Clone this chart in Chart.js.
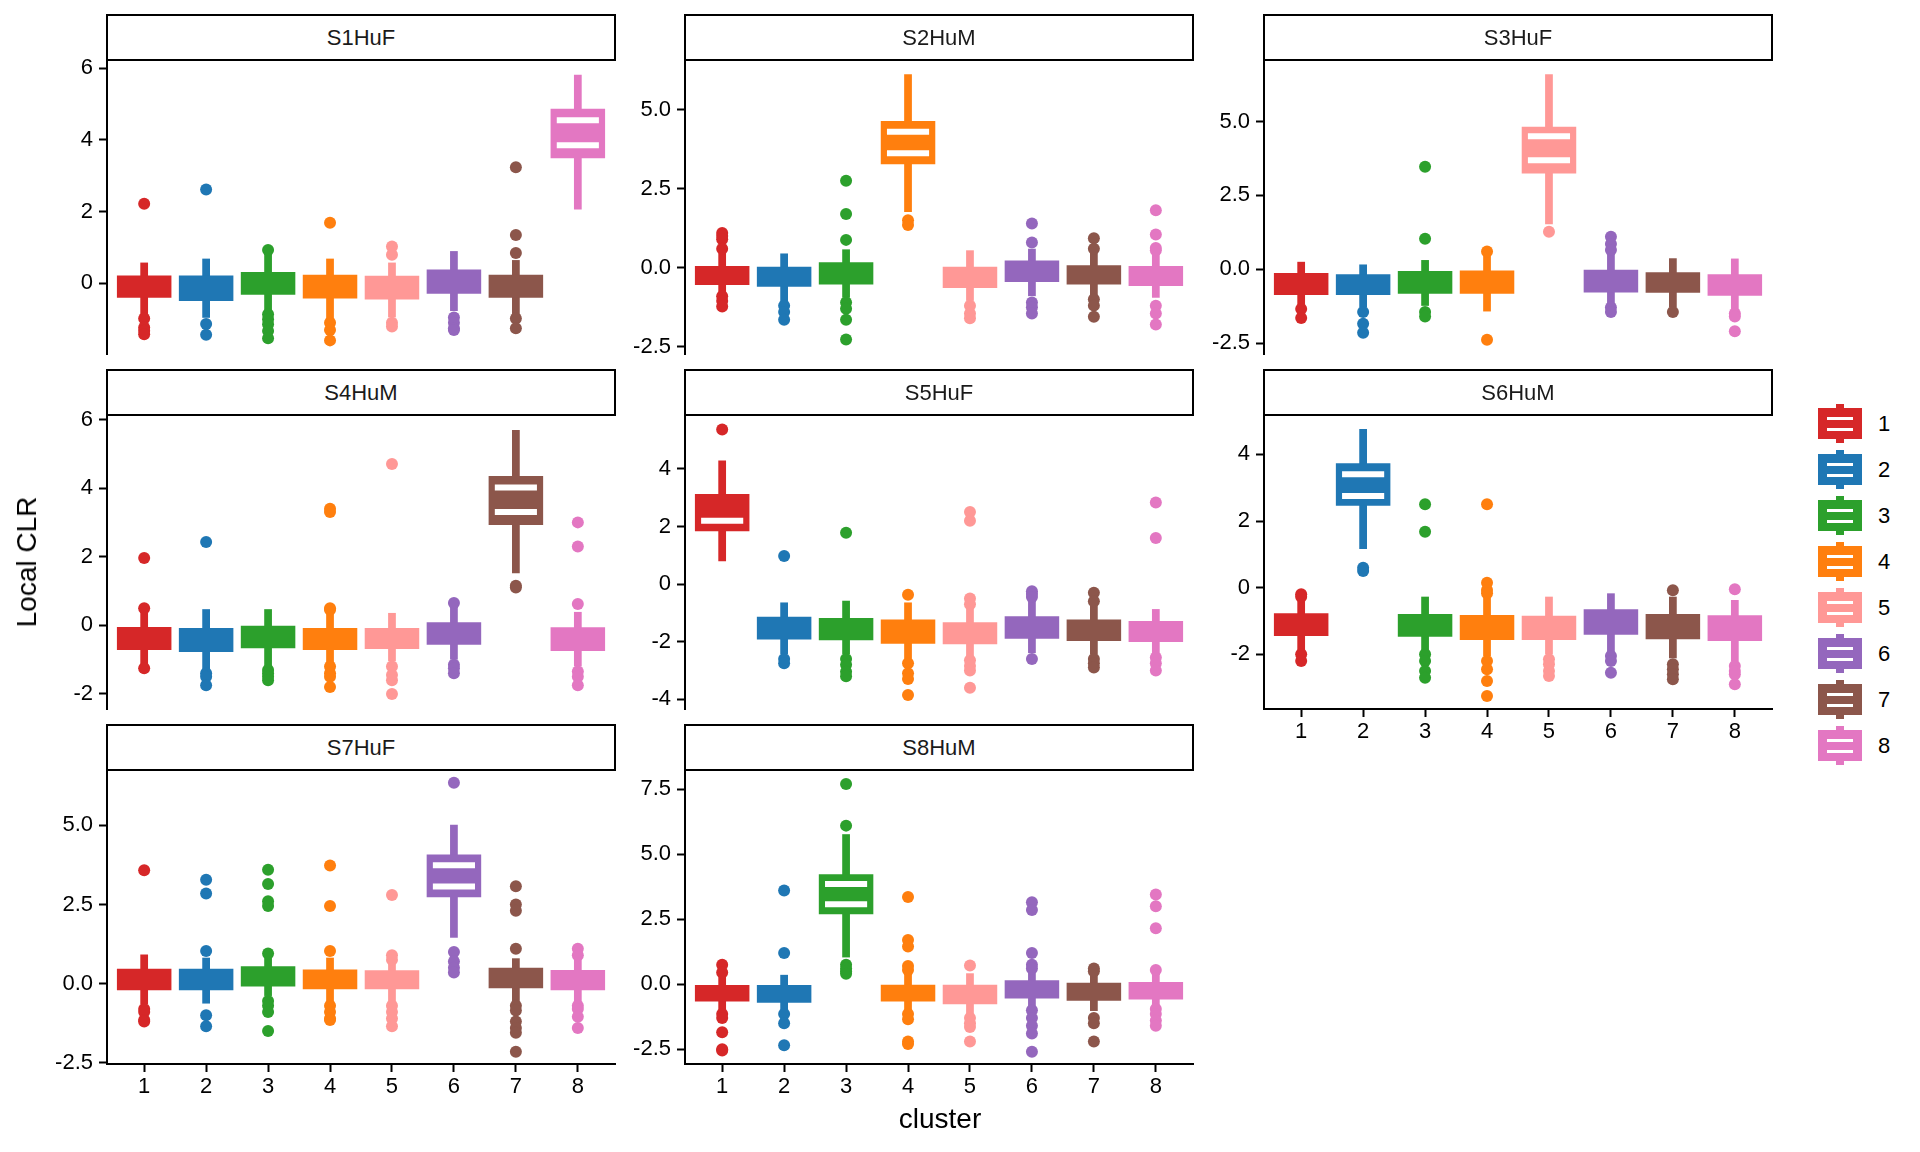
<!DOCTYPE html>
<html>
<head>
<meta charset="utf-8">
<script src="https://cdn.jsdelivr.net/npm/chart.js@4.4.1/dist/chart.umd.min.js"></script>
<style>
html,body{margin:0;padding:0;background:#fff;}
body{width:1920px;height:1152px;position:relative;overflow:hidden;font-family:"Liberation Sans",Arial,Helvetica,sans-serif;}
canvas{position:absolute;}
.strip{position:absolute;box-sizing:border-box;border:2px solid #000;background:#fff;display:flex;align-items:center;justify-content:center;font-size:22px;color:#1a1a1a;z-index:2;}
.title{position:absolute;font-size:28px;color:#000;white-space:nowrap;}
.lk{position:absolute;}
.ll{position:absolute;font-size:22px;color:#000;line-height:22px;}
</style>
</head>
<body>
<script>
// ---------------- data ----------------
const panelNames = ['S1HuF','S2HuM','S3HuF','S4HuM','S5HuF','S6HuM','S7HuF','S8HuM'];
const clusters = [1,2,3,4,5,6,7,8];
const xTickLabels = ['1','2','3','4','5','6','7','8'];
const legendLabels = ['1','2','3','4','5','6','7','8'];
const clusterColors = ['#d62728','#1f77b4','#2ca02c','#ff7f0e','#ff9896','#9467bd','#8c564b','#e377c2'];

const xMin = 0.4, xMax = 8.6;
const yMin = [-1.97,-2.73,-2.87,-2.44,-4.34,-3.64,-2.54,-3.07];
const yMax = [6.23,6.57,7.08,6.13,5.87,5.18,6.75,8.24];
const yTicks = [[0,2,4,6],[-2.5,0,2.5,5],[-2.5,0,2.5,5],[-2,0,2,4,6],[-4,-2,0,2,4],[-2,0,2,4],[-2.5,0,2.5,5],[-2.5,0,2.5,5,7.5]];
const yTickLabels = [['0','2','4','6'],['-2.5','0.0','2.5','5.0'],['-2.5','0.0','2.5','5.0'],['-2','0','2','4','6'],['-4','-2','0','2','4'],['-2','0','2','4'],['-2.5','0.0','2.5','5.0'],['-2.5','0.0','2.5','5.0','7.5']];

// letter-value boxes per panel, per cluster
const boxHigh = [
  [0.22,0.22,0.32,0.24,0.21,0.39,0.24,4.87],
  [0.05,0.03,0.17,4.64,0.03,0.23,0.08,0.05],
  [-0.13,-0.17,-0.06,-0.04,4.82,-0.02,-0.10,-0.17],
  [-0.05,-0.08,-0.01,-0.08,-0.08,0.09,4.35,-0.06],
  [3.13,-1.14,-1.18,-1.23,-1.33,-1.12,-1.23,-1.28],
  [-0.77,3.73,-0.79,-0.82,-0.84,-0.65,-0.79,-0.83],
  [0.47,0.47,0.55,0.45,0.42,4.08,0.50,0.43],
  [-0.03,-0.03,4.23,0.00,0.00,0.15,0.06,0.08]
];
const boxLow = [
  [-0.40,-0.49,-0.32,-0.42,-0.45,-0.29,-0.40,3.49],
  [-0.55,-0.60,-0.53,3.27,-0.64,-0.45,-0.53,-0.58],
  [-0.87,-0.87,-0.83,-0.83,3.24,-0.79,-0.80,-0.90],
  [-0.72,-0.78,-0.67,-0.72,-0.69,-0.57,2.92,-0.75],
  [1.83,-1.93,-1.95,-2.07,-2.09,-1.90,-1.98,-2.01],
  [-1.45,2.46,-1.47,-1.57,-1.57,-1.41,-1.55,-1.60],
  [-0.21,-0.21,-0.09,-0.18,-0.18,2.73,-0.15,-0.21],
  [-0.67,-0.71,2.69,-0.67,-0.77,-0.55,-0.64,-0.59]
];
const stubHigh = [
  [0.58,0.69,0.88,0.69,0.58,0.90,0.65,5.82],
  [0.55,0.45,0.58,6.12,0.55,0.60,0.50,0.50],
  [0.25,0.16,0.31,0.45,6.60,0.50,0.37,0.36],
  [0.45,0.47,0.47,0.45,0.36,0.55,5.69,0.39],
  [4.29,-0.64,-0.58,-0.64,-0.80,-0.60,-0.75,-0.87],
  [-0.40,4.76,-0.27,-0.30,-0.27,-0.17,-0.27,-0.37],
  [0.92,0.82,0.85,0.82,0.70,5.02,0.80,0.80],
  [0.40,0.36,5.77,0.50,0.42,0.50,0.45,0.40]
];
const stubLow = [
  [-0.95,-0.96,-0.85,-1.00,-0.95,-0.77,-0.90,2.06],
  [-0.80,-1.10,-0.95,1.76,-1.05,-0.90,-0.90,-0.95],
  [-1.24,-1.30,-1.24,-1.43,1.52,-1.25,-1.30,-1.40],
  [-1.14,-1.29,-1.19,-1.10,-1.05,-1.00,1.52,-1.20],
  [0.79,-2.43,-2.43,-2.60,-2.50,-2.40,-2.45,-2.40],
  [-1.87,1.16,-1.87,-2.05,-2.00,-1.95,-2.12,-2.22],
  [-0.65,-0.63,-0.39,-0.60,-0.60,1.45,-0.60,-0.60],
  [-1.03,-1.00,1.03,-1.00,-1.15,-0.90,-1.03,-0.90]
];
// outlying points per panel, per cluster
const outliers = [
  [[2.22,-0.98,-1.23,-1.32,-1.42],[2.62,-1.13,-1.43],[0.93,-0.86,-1.0,-1.14,-1.33,-1.53],[1.69,-1.1,-1.3,-1.59],[1.03,0.8,-1.1,-1.2],[-0.95,-1.1,-1.25,-1.3],[3.24,1.35,0.85,-0.98,-1.25],[]],
  [[1.1,1.0,0.9,0.6,-0.9,-1.05,-1.23],[-1.2,-1.4,-1.65],[2.75,1.7,0.88,-1.1,-1.3,-1.65,-2.27],[1.5,1.35],[-1.2,-1.45,-1.6],[1.4,0.8,-1.1,-1.25,-1.45],[0.93,0.6,-1.0,-1.2,-1.55],[1.82,1.05,0.62,0.55,-1.2,-1.45,-1.8]],
  [[-1.35,-1.65],[-1.45,-1.85,-2.15],[3.47,1.03,-1.45,-1.6],[0.6,-2.39],[1.27],[1.1,0.85,0.65,-1.3,-1.45],[-1.45],[-1.5,-1.6,-2.1]],
  [[1.96,0.5,-1.25],[2.43,-1.4,-1.5,-1.75],[-1.3,-1.4,-1.5,-1.6],[3.4,3.3,0.5,0.45,-1.2,-1.4,-1.5,-1.8],[4.7,-1.2,-1.45,-1.6,-2.0],[0.65,-1.15,-1.25,-1.4],[1.15,1.1],[3.0,2.3,0.62,-1.35,-1.5,-1.75]],
  [[5.37],[0.97,-2.6,-2.75],[1.78,-2.6,-2.8,-3.05,-3.2],[-0.37,-2.75,-3.1,-3.3,-3.85],[2.5,2.2,-0.5,-0.7,-2.65,-2.85,-3.0,-3.6],[-0.25,-0.35,-0.45,-2.6],[-0.3,-0.6,-2.6,-2.75,-2.9],[2.83,1.6,-2.55,-2.75,-3.0]],
  [[-0.2,-0.27,-2.0,-2.2],[0.6,0.5],[2.5,1.68,-2.0,-2.2,-2.5,-2.7],[2.5,0.15,-0.07,-0.17,-2.2,-2.45,-2.8,-3.25],[-2.15,-2.3,-2.5,-2.65],[-2.05,-2.2,-2.55],[-0.08,-2.3,-2.45,-2.6,-2.75],[-0.05,-2.35,-2.5,-2.6,-2.9]],
  [[3.58,-0.8,-0.9,-1.15,-1.2],[3.28,2.85,1.03,-1.0,-1.35],[3.6,3.15,2.6,2.45,0.95,-0.55,-0.7,-0.9,-1.5],[3.73,2.45,1.03,-0.7,-0.9,-1.1,-1.15],[2.8,0.9,0.75,-0.7,-0.9,-1.1,-1.35],[6.35,1.0,0.7,0.5,0.35],[3.08,2.5,2.3,1.1,-0.7,-0.85,-1.2,-1.4,-1.55,-2.15],[1.1,0.9,-0.7,-0.8,-1.05,-1.4]],
  [[0.75,0.45,-1.15,-1.3,-1.85,-2.5,-2.55],[3.6,1.2,-1.15,-1.5,-2.35],[7.7,6.1,0.75,0.6,0.5,0.4],[3.35,1.7,1.45,0.7,0.55,-1.15,-1.35,-2.2,-2.3],[0.72,-1.3,-1.5,-1.65,-2.2],[3.15,2.85,1.2,0.75,0.6,-1.0,-1.3,-1.6,-1.9,-2.6],[0.6,0.5,-1.3,-1.5,-2.2],[3.45,3.0,2.15,0.55,-0.95,-1.15,-1.4,-1.6]]
];
// white inner marks (cluster carrying them, and their values)
const markCluster = [8,4,5,7,1,2,6,3];
const markValues = [[4.55,3.85],[4.3,3.62],[4.5,3.69],[4.02,3.3],[2.2],[3.4,2.75],[3.74,3.07],[3.85,3.08]];
const xAxisShown = [false,false,false,false,false,true,true,true];

// ---------------- layout ----------------
const FONT = '"Liberation Sans", Arial, Helvetica, sans-serif';
const colLeft = [107, 685, 1264];
const rowTop = [15, 370, 725];
const PW = 508, STRIP = 45, PH = 294, AXW = 100, XAXH = 50, PADR = 12, PADB = 24;
const unitPx = PW / (xMax - xMin);

panelNames.forEach((name, p) => {
  const col = p % 3, row = Math.floor(p / 3);
  const hasX = xAxisShown[p];
  const W = AXW + PW + PADR;
  const H = STRIP + PH + (hasX ? XAXH : PADB);
  const cv = document.createElement('canvas');
  cv.width = W; cv.height = H;
  cv.style.left = (colLeft[col] - AXW) + 'px';
  cv.style.top = rowTop[row] + 'px';
  cv.style.width = W + 'px'; cv.style.height = H + 'px';
  document.body.appendChild(cv);

  const strip = document.createElement('div');
  strip.className = 'strip';
  strip.style.left = (colLeft[col] - 1) + 'px';
  strip.style.top = (rowTop[row] - 1) + 'px';
  strip.style.width = (PW + 2) + 'px';
  strip.style.height = (STRIP + 2) + 'px';
  strip.textContent = name;
  document.body.appendChild(strip);

  const datasets = [];
  datasets.push({
    type: 'scatter', order: 1,
    data: markValues[p].map(v => ({ x: markCluster[p], y: v })),
    pointStyle: 'line', pointRadius: unitPx * 0.34, pointHoverRadius: unitPx * 0.34,
    borderColor: '#ffffff', borderWidth: 6, backgroundColor: '#ffffff'
  });
  clusters.forEach((c, i) => {
    datasets.push({
      type: 'scatter', order: 2,
      data: outliers[p][i].map(v => ({ x: c, y: v })),
      pointRadius: 6, pointHoverRadius: 6, pointBorderWidth: 0, borderWidth: 0,
      backgroundColor: clusterColors[i], borderColor: clusterColors[i]
    });
  });
  datasets.push({
    type: 'bar', order: 3,
    data: clusters.map((c, i) => ({ x: c, y: [boxLow[p][i], boxHigh[p][i]] })),
    backgroundColor: clusterColors, borderWidth: 0,
    barPercentage: 0.88, categoryPercentage: 1, grouped: false
  });
  datasets.push({
    type: 'bar', order: 4,
    data: clusters.map((c, i) => ({ x: c, y: [stubLow[p][i], stubHigh[p][i]] })),
    backgroundColor: clusterColors, borderWidth: 0,
    barPercentage: 0.125, categoryPercentage: 1, grouped: false
  });

  new Chart(cv, {
    type: 'bar',
    data: { datasets },
    options: {
      responsive: false, animation: false, devicePixelRatio: 1,
      events: [],
      layout: { autoPadding: false, padding: { top: STRIP, left: 0, right: PADR, bottom: hasX ? 0 : PADB } },
      plugins: { legend: { display: false }, tooltip: { enabled: false }, title: { display: false } },
      scales: {
        x: {
          type: 'linear', min: xMin, max: xMax, bounds: 'data', offset: false, display: hasX,
          afterBuildTicks: s => { s.ticks = clusters.map(v => ({ value: v })); s.min = xMin; s.max = xMax; },
          afterFit: s => { if (hasX) s.height = XAXH; },
          ticks: { callback: (v, i) => xTickLabels[i], color: '#000', font: { family: FONT, size: 22 }, padding: 2, maxRotation: 0, autoSkip: false },
          grid: { display: true, drawOnChartArea: false, drawTicks: true, tickLength: 8, tickWidth: 2, tickColor: '#000', offset: false },
          border: { display: true, color: '#000', width: 2 }
        },
        y: {
          type: 'linear', min: yMin[p], max: yMax[p], bounds: 'data',
          afterBuildTicks: s => { s.ticks = yTicks[p].map(v => ({ value: v })); s.min = yMin[p]; s.max = yMax[p]; },
          afterFit: s => { s.width = AXW; },
          ticks: { callback: (v, i) => yTickLabels[p][i], color: '#000', font: { family: FONT, size: 22 }, padding: 6 },
          grid: { display: true, drawOnChartArea: false, drawTicks: true, tickLength: 8, tickWidth: 2, tickColor: '#000' },
          border: { display: true, color: '#000', width: 2 }
        }
      }
    }
  });
});

// axis titles
const yt = document.createElement('div');
yt.className = 'title'; yt.textContent = 'Local CLR';
yt.style.left = '27px'; yt.style.top = '562px';
yt.style.transform = 'translate(-50%,-50%) rotate(-90deg)';
document.body.appendChild(yt);
const xt = document.createElement('div');
xt.className = 'title'; xt.textContent = 'cluster';
xt.style.left = '940px'; xt.style.top = '1119px';
xt.style.transform = 'translate(-50%,-50%)';
document.body.appendChild(xt);

// legend
legendLabels.forEach((lab, i) => {
  const cy = 423.5 + 46 * i;
  const mk = (l, t, w, h, bg) => {
    const d = document.createElement('div'); d.className = 'lk';
    d.style.left = l + 'px'; d.style.top = t + 'px'; d.style.width = w + 'px'; d.style.height = h + 'px';
    d.style.background = bg; document.body.appendChild(d);
  };
  mk(1836, cy - 19.5, 8, 39, clusterColors[i]);
  mk(1818, cy - 15.5, 44, 31, clusterColors[i]);
  mk(1827, cy - 7, 26, 3, '#fff');
  mk(1827, cy + 4, 26, 3, '#fff');
  const t = document.createElement('div'); t.className = 'll'; t.textContent = lab;
  t.style.left = '1878px'; t.style.top = (cy - 11) + 'px';
  document.body.appendChild(t);
});
</script>
</body>
</html>
